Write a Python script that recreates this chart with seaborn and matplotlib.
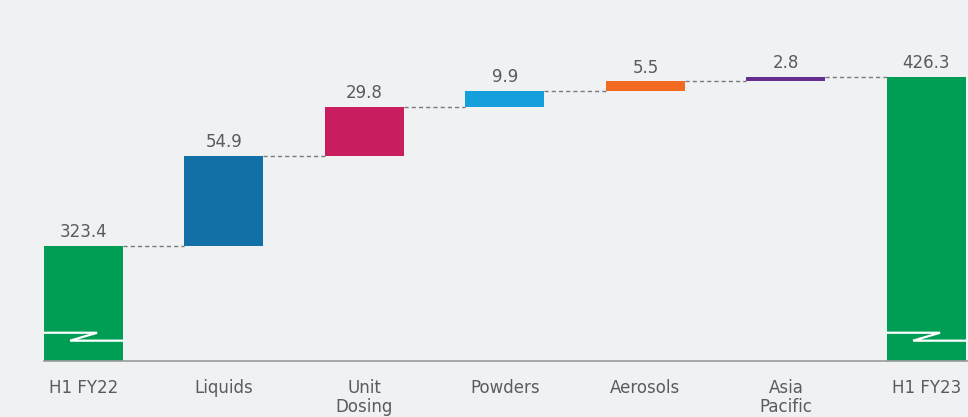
import matplotlib
matplotlib.use("Agg")
import matplotlib.pyplot as plt
import matplotlib.transforms as mtransforms
import seaborn as sns
import numpy as np

# waterfall data
categories = ["H1 FY22", "Liquids", "Unit\nDosing", "Powders", "Aerosols", "Asia\nPacific", "H1 FY23"]
values = [323.4, 54.9, 29.8, 9.9, 5.5, 2.8, 426.3]
labels = ["323.4", "54.9", "29.8", "9.9", "5.5", "2.8", "426.3"]
colors = ["#009e54", "#1270a6", "#c81e60", "#159fdb", "#f26a21", "#662d91", "#009e54"]

bg = "#f0f1f3"
txt = "#5a5b5d"

sns.set_theme(style="white")
plt.rcParams["font.family"] = ["DejaVu Sans"]

# bottoms: totals start at 0, steps float on running total
bottoms = [0.0]
running = values[0]
for v in values[1:-1]:
    bottoms.append(running)
    running += v
bottoms.append(0.0)
tops = [b + v for b, v in zip(bottoms, values)]

fig = plt.figure(figsize=(9.68, 4.17), dpi=100, facecolor=bg)
ax = fig.add_axes([44 / 968, 56.5 / 417, 1 - 44 / 968, 1 - 56.5 / 417])
ax.set_facecolor(bg)

w = 0.562
sns.barplot(x=categories, y=values, hue=categories, palette=colors,
            width=w, legend=False, saturation=1, ax=ax, order=categories,
            hue_order=categories, linewidth=0)
for patch, b in zip(ax.patches, bottoms):
    patch.set_y(b)

ax.set_xlim(-w / 2, 6.296)
ax.set_ylim(254, 473)

# connectors
for i in range(len(values) - 1):
    ax.plot([i + w / 2, i + 1 - w / 2], [tops[i], tops[i]], color="#7a7a7a",
            lw=1.0, ls=(0, (3, 2.2)), zorder=1)

# value labels
for i, (t, lab) in enumerate(zip(tops, labels)):
    ax.annotate(lab, (i, t), xytext=(0, 3.5), textcoords="offset points",
                ha="center", va="bottom", fontsize=12, color=txt)

# axis break marks on the total bars
trans = mtransforms.blended_transform_factory(ax.transData, ax.transAxes)
for i in [0, len(values) - 1]:
    xl, xr = i - w / 2, i + w / 2
    ax.plot([xl, xl + 0.378, xl + 0.186, xr], [0.077, 0.077, 0.055, 0.055],
            color="white", lw=1.6, transform=trans, zorder=3,
            solid_joinstyle="miter")

sns.despine(ax=ax, left=True)
ax.spines["bottom"].set_color("#9a9a9a")
ax.spines["bottom"].set_linewidth(1.2)
ax.set_yticks([])
ax.set_xlabel("")
ax.set_ylabel("")
ax.tick_params(axis="x", length=0, pad=13, labelsize=12, labelcolor=txt)
for t in ax.get_xticklabels():
    t.set_linespacing(1.1)

fig.savefig("out.png", dpi=100, facecolor=bg)
